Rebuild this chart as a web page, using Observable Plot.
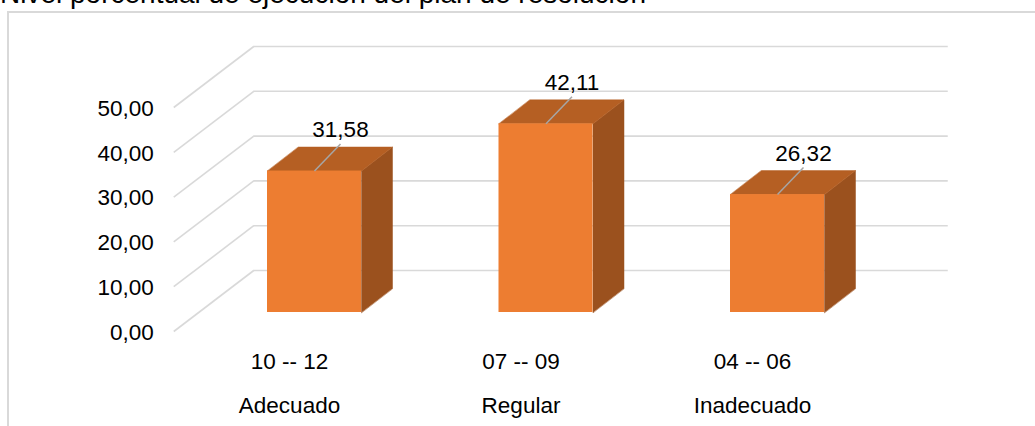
<!DOCTYPE html>
<html><head><meta charset="utf-8">
<script src="https://cdn.jsdelivr.net/npm/d3@7"></script>
<script src="https://cdn.jsdelivr.net/npm/@observablehq/plot@0.6"></script>
<style>
body{margin:0;background:#fff;overflow:hidden;font-family:"Liberation Sans",Arial,sans-serif}
#wrap{position:relative;width:1035px;height:426px;overflow:hidden}
#title{position:absolute;left:0;top:-20px;font-size:28px;line-height:1;white-space:nowrap;color:#000}
#frame{position:absolute;left:7px;top:11px;width:1100px;height:500px;border-left:2px solid #d9d9d9;border-top:2px solid #d9d9d9}
#chart{position:absolute;left:0;top:0}
</style></head><body>
<div id="wrap"><div id="frame"></div><div id="title">Nivel porcentual de ejecución del plan de resolución</div><div id="chart"></div></div>
<script>
// Data
const ranges = ["10 -- 12", "07 -- 09", "04 -- 06"];
const levels = ["Adecuado", "Regular", "Inadecuado"];
const values = [31.58, 42.11, 26.32];
const yTicks = [0, 10, 20, 30, 40, 50];

// Layout (styles)
const W = 1035, H = 426;
const mL = 314, mR = 258, mT = 88, mB = 114;
const kx = (W - mL - mR) / 2;      // px per category step
const ky = (H - mT - mB) / 50;     // px per value unit
const toX = px => px / kx, toY = px => px / ky;
const half = toX(47);              // half bar width
const bdx = toX(31), bdy = toY(24);  // bar depth
const fmt = v => v.toFixed(2).replace(".", ",");
const FS = 22.5;

const bars = values.map((v, i) => ({i, v, range: ranges[i], level: levels[i]}));
const topFaces = bars.flatMap(d => [
  {i: d.i, x: d.i - half, y: d.v},
  {i: d.i, x: d.i + half, y: d.v},
  {i: d.i, x: d.i + half + bdx, y: d.v + bdy},
  {i: d.i, x: d.i - half + bdx, y: d.v + bdy}
]);
const sideFaces = bars.flatMap(d => [
  {i: d.i, x: d.i + half, y: 0},
  {i: d.i, x: d.i + half, y: d.v},
  {i: d.i, x: d.i + half + bdx, y: d.v + bdy},
  {i: d.i, x: d.i + half + bdx, y: bdy}
]);

const grid = "#d9d9d9";
const chart = Plot.plot({
  width: W, height: H,
  marginLeft: mL, marginRight: mR, marginTop: mT, marginBottom: mB,
  x: {type: "linear", domain: [0, 2], axis: null},
  y: {domain: [0, 50], axis: null},
  style: {fontFamily: '"Liberation Sans", Arial, sans-serif', background: "transparent", overflow: "visible"},
  marks: [
    // back wall gridlines
    Plot.ruleY(yTicks, {y: d => d, x1: -0.5, x2: 2.5, dx: 55, dy: -42, stroke: grid, strokeWidth: 1.6}),
    // floor / side diagonals
    Plot.link(yTicks, {
      x1: -0.5, y1: d => d, x2: -0.5 + toX(80), y2: d => d + toY(61),
      dx: -25, dy: 19, stroke: grid, strokeWidth: 1.6
    }),
    // y tick labels
    Plot.text(yTicks, {x: -0.5, y: d => d, text: fmt, textAnchor: "end", dx: -45, dy: 20, fontSize: FS, fill: "#000"}),
    // bars: side, top, front
    Plot.line(sideFaces, {x: "x", y: "y", z: "i", curve: "linear-closed", fill: "#9B511E", stroke: "#9B511E", strokeWidth: 0.5}),
    Plot.line(topFaces, {x: "x", y: "y", z: "i", curve: "linear-closed", fill: "#B55F23", stroke: "#B55F23", strokeWidth: 0.5}),
    Plot.rect(bars, {x1: d => d.i - half, x2: d => d.i + half, y1: 0, y2: "v", fill: "#ED7D31"}),
    // leader lines
    Plot.link(bars, {x1: "i", y1: "v", x2: d => d.i + toX(26), y2: d => d.v + toY(27), stroke: "#a6a6a6", strokeWidth: 1.5}),
    // value labels
    Plot.text(bars, {x: "i", y: "v", text: d => fmt(d.v), dx: 26, dy: -41, fontSize: FS, fill: "#000"}),
    // category labels
    Plot.text(bars, {x: "i", y: 0, text: "range", dx: -25, dy: 49, fontSize: FS, fill: "#000"}),
    Plot.text(bars, {x: "i", y: 0, text: "level", dx: -25, dy: 93, fontSize: FS, fill: "#000"})
  ]
});
document.getElementById("chart").append(chart);
</script>
</body></html>
